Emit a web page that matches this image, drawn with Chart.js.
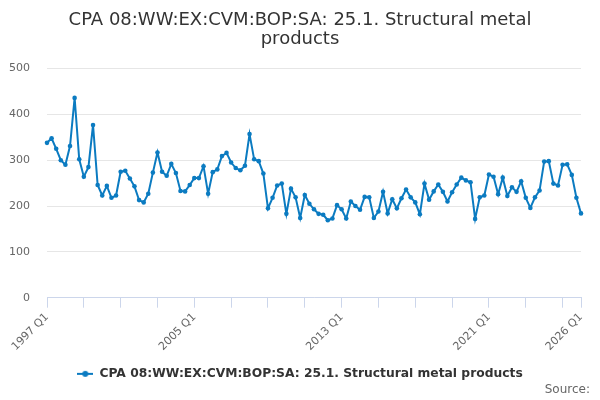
<!DOCTYPE html>
<html>
<head>
<meta charset="utf-8">
<script src="https://cdn.jsdelivr.net/npm/chart.js@4.4.1/dist/chart.umd.min.js"></script>
<style>
  html, body { margin: 0; padding: 0; background: #fff; }
  #wrap { width: 600px; height: 400px; }
</style>
</head>
<body>
<div id="wrap"><canvas id="chart" width="600" height="400"></canvas></div>
<script>
"use strict";

// data

const seriesName = 'CPA 08:WW:EX:CVM:BOP:SA: 25.1. Structural metal products';
const titleLines = ['CPA 08:WW:EX:CVM:BOP:SA: 25.1. Structural metal', 'products'];
const firstYear = 1997;
const lastYear = 2026;
const quarters = ['Q1', 'Q2', 'Q3', 'Q4'];
const tickLabels = ['1997 Q1', '2005 Q1', '2013 Q1', '2021 Q1', '2026 Q1'];
const yTicks = [0, 100, 200, 300, 400, 500];

const values = [
  338, 348, 325, 300, 290, 331, 436, 302, 264, 285, 377, 246, 223, 244, 218, 223,
  275, 277, 260, 243, 213, 208, 227, 273, 317, 275, 266, 292, 272, 233, 232, 246,
  261, 261, 287, 227, 274, 280, 309, 316, 295, 283, 278, 288, 357, 302, 298, 271,
  195, 218, 245, 249, 183, 238, 219, 174, 224, 205, 193, 183, 181, 169, 173, 202,
  193, 173, 210, 200, 192, 220, 219, 174, 188, 231, 184, 215, 195, 217, 236, 219,
  208, 182, 249, 214, 232, 247, 231, 210, 230, 247, 262, 256, 252, 172, 219, 223,
  269, 264, 226, 262, 222, 241, 231, 254, 218, 196, 219, 234, 297, 298, 249, 245,
  290, 291, 268, 218, 184
];

const categories = [];
for (let y = firstYear; y <= lastYear; y++) {
  quarters.forEach(q => categories.push(y + ' ' + q));
}
categories.length = values.length;

// styles

const blue = '#0b7bc1';
const fontFamily = '"DejaVu Sans", sans-serif';

// legend symbol: short line with a dot
const legendSymbol = document.createElement('canvas');
legendSymbol.width = 16;
legendSymbol.height = 10;
(function () {
  const c = legendSymbol.getContext('2d');
  c.strokeStyle = blue;
  c.lineWidth = 2;
  c.beginPath();
  c.moveTo(0, 5);
  c.lineTo(16, 5);
  c.stroke();
  c.fillStyle = blue;
  c.beginPath();
  c.arc(8, 5, 3, 0, Math.PI * 2);
  c.fill();
})();

const sourcePlugin = {
  id: 'sourceText',
  afterDraw(chart) {
    const ctx = chart.ctx;
    ctx.save();
    ctx.font = '12px ' + fontFamily;
    ctx.fillStyle = '#666666';
    ctx.textAlign = 'right';
    ctx.textBaseline = 'middle';
    ctx.fillText('Source:', 590, 390);
    ctx.restore();
  }
};

const config = {
  type: 'line',
  data: {
    labels: categories,
    datasets: [{
      label: seriesName,
      data: values,
      borderColor: blue,
      backgroundColor: blue,
      borderWidth: 2,
      pointRadius: 2.3,
      pointBorderWidth: 0,
      pointHoverRadius: 3,
      tension: 0
    }]
  },
  options: {
    responsive: false,
    animation: false,
    layout: {
      padding: { left: 0, right: 0, top: 6, bottom: 10 }
    },
    scales: {
      x: {
        offset: false,
        grid: {
          drawOnChartArea: false,
          drawTicks: true,
          tickLength: 10,
          color: '#ccd6eb'
        },
        border: { color: '#ccd6eb' },
        ticks: {
          autoSkip: false,
          minRotation: 45,
          maxRotation: 45,
          color: '#666666',
          font: { family: fontFamily, size: 11 },
          callback(value, index) {
            const label = categories[index];
            if (tickLabels.includes(label)) return label;
            if (index % 8 === 0) return '';
            return null;
          }
        },
        afterFit(scale) { scale.height = 60; }
      },
      y: {
        min: 0,
        max: 500,
        afterBuildTicks(scale) {
          scale.ticks = yTicks.map(v => ({ value: v }));
        },
        grid: {
          color: '#e6e6e6',
          drawTicks: false
        },
        border: { display: false },
        ticks: {
          padding: 17,
          color: '#666666',
          font: { family: fontFamily, size: 11 }
        },
        afterFit(scale) { scale.width = 47; }
      },
      // empty right-hand gutter so the title and legend stay centred on the canvas
      gutter: {
        position: 'right',
        grid: { display: false },
        border: { display: false },
        ticks: { display: false },
        afterFit(scale) { scale.width = 19; }
      }
    },
    plugins: {
      title: {
        display: true,
        text: titleLines,
        color: '#333333',
        font: { family: fontFamily, size: 18, weight: 'normal', lineHeight: 1.1 },
        padding: { top: 4, bottom: 19 }
      },
      legend: {
        position: 'bottom',
        labels: {
          usePointStyle: true,
          pointStyleWidth: 16,
          color: '#333333',
          font: { family: fontFamily, size: 12.3, weight: 'bold' },
          generateLabels(chart) {
            return [{
              text: seriesName,
              pointStyle: legendSymbol,
              fillStyle: blue,
              strokeStyle: blue,
              fontColor: '#333333',
              lineWidth: 0,
              datasetIndex: 0,
              hidden: false
            }];
          }
        }
      },
      tooltip: { enabled: false }
    }
  },
  plugins: [sourcePlugin]
};

const chart = new Chart(document.getElementById('chart'), config);
</script>
</body>
</html>
